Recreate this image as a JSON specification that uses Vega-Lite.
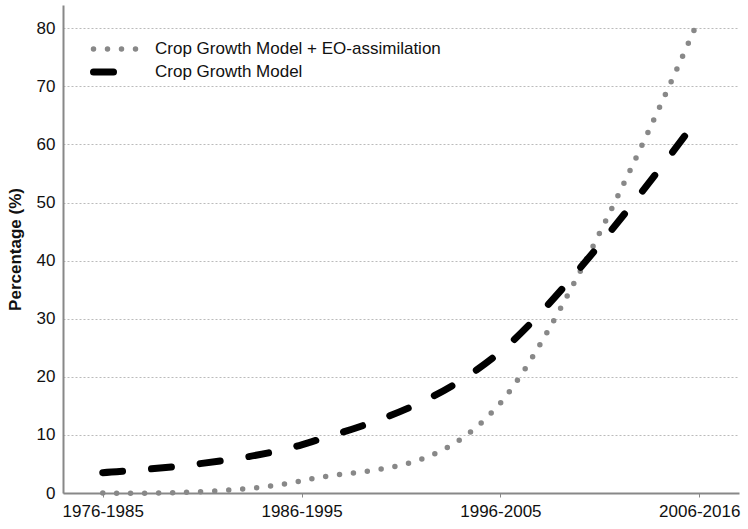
{
  "$schema": "https://vega.github.io/schema/vega-lite/v6.json",
  "autosize": "none",
  "width": 676,
  "height": 488,
  "padding": {"left": 63, "top": 5, "right": 9, "bottom": 36},
  "background": "white",
  "config": {
    "font": "Liberation Sans",
    "view": {"stroke": null}
  },
  "data": {
    "values": [
      {"period": "1976-1985", "series": "Crop Growth Model + EO-assimilation", "pct": 0},
      {"period": "1986-1995", "series": "Crop Growth Model + EO-assimilation", "pct": 2.1},
      {"period": "1996-2005", "series": "Crop Growth Model + EO-assimilation", "pct": 15.5},
      {"period": "2006-2016", "series": "Crop Growth Model + EO-assimilation", "pct": 81.7},
      {"period": "1976-1985", "series": "Crop Growth Model", "pct": 3.5},
      {"period": "1986-1995", "series": "Crop Growth Model", "pct": 8.3},
      {"period": "1996-2005", "series": "Crop Growth Model", "pct": 24.3},
      {"period": "2006-2016", "series": "Crop Growth Model", "pct": 64.8}
    ]
  },
  "mark": {"type": "line", "interpolate": "cardinal", "strokeCap": "round"},
  "encoding": {
    "x": {
      "field": "period", "type": "ordinal",
      "scale": {"type": "point", "padding": 0.2},
      "axis": {
        "title": null, "labelAngle": 0, "labelFontSize": 17, "labelColor": "#111",
        "domainColor": "#888", "domainWidth": 2, "tickColor": "#888", "tickSize": 4,
        "grid": false, "labelPadding": 6
      }
    },
    "y": {
      "field": "pct", "type": "quantitative",
      "scale": {"domain": [0, 84], "nice": false},
      "axis": {
        "title": "Percentage (%)", "titleFontSize": 17, "titleFontWeight": "bold", "titleColor": "#111",
        "titlePadding": 12,
        "values": [0, 10, 20, 30, 40, 50, 60, 70, 80],
        "labelFontSize": 17, "labelColor": "#111", "ticks": false, "labelPadding": 8,
        "domainColor": "#888", "domainWidth": 2,
        "grid": true, "gridColor": "#bbb", "gridDash": [2, 2], "gridWidth": 1
      }
    },
    "color": {
      "field": "series", "type": "nominal",
      "scale": {"domain": ["Crop Growth Model + EO-assimilation", "Crop Growth Model"], "range": ["#888888", "#000000"]},
      "legend": {
        "title": null, "orient": "none", "legendX": 27, "legendY": 34,
        "symbolType": "stroke", "symbolSize": 2025, "symbolStrokeWidth": 6,
        "labelFontSize": 17, "labelColor": "#111", "labelOffset": 13, "rowPadding": 3,
        "clipHeight": 20, "labelLimit": 500,
        "encode": {"symbols": {"update": {"strokeCap": {"value": "round"}}}}
      }
    },
    "strokeDash": {
      "field": "series", "type": "nominal",
      "scale": {"domain": ["Crop Growth Model + EO-assimilation", "Crop Growth Model"], "range": [[0, 14], [20, 29]]}
    },
    "strokeWidth": {
      "field": "series", "type": "nominal",
      "scale": {"domain": ["Crop Growth Model + EO-assimilation", "Crop Growth Model"], "range": [5.5, 7]}
    }
  }
}
